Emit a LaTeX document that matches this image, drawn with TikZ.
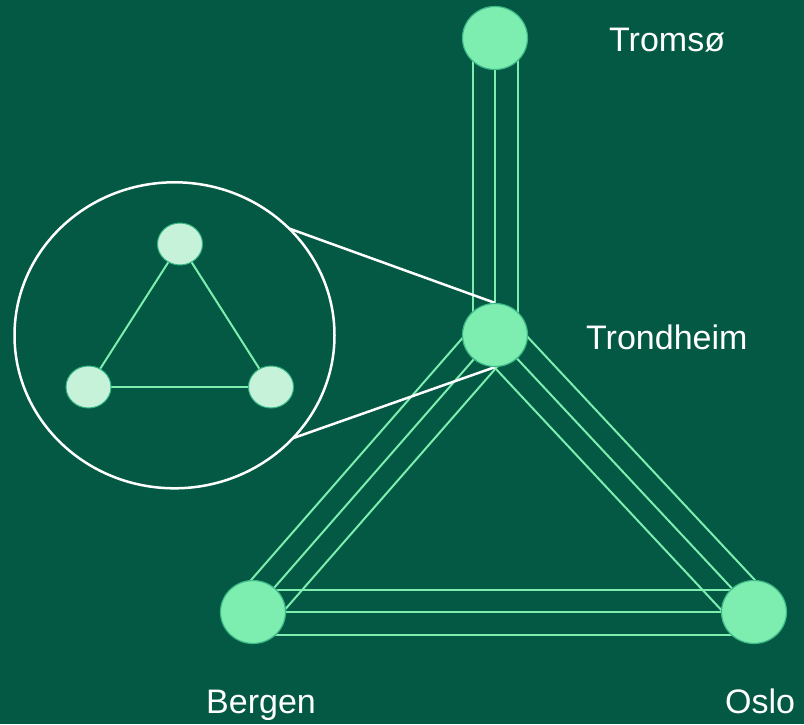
\documentclass[tikz,border=0pt]{standalone}
\usepackage{fontspec}
\setmainfont{Liberation Sans}
\usetikzlibrary{shapes.geometric,calc}
\definecolor{bgc}{RGB}{3,89,68}
\definecolor{lg}{RGB}{125,238,176}
\definecolor{lgb}{RGB}{60,185,135}
\definecolor{pale}{RGB}{198,242,218}
\definecolor{paleb}{RGB}{50,180,130}
\pgfdeclarelayer{back}
\pgfdeclarelayer{links}
\pgfsetlayers{back,links,main}
\begin{document}
\begin{tikzpicture}[x=1pt,y=-1pt,
 city/.style={ellipse,fill=lg,draw=lgb,line width=1.2pt,minimum width=65pt,minimum height=63pt,inner sep=0pt},
 mini/.style={ellipse,fill=pale,draw=paleb,line width=1pt,minimum width=45pt,minimum height=42pt,inner sep=0pt},
 link/.style={draw=lg,line width=2pt},
 zoomline/.style={draw=white,line width=2.5pt},
 lbl/.style={text=white,font=\fontsize{34}{40}\selectfont,inner sep=0pt,anchor=base west}]
\begin{pgfonlayer}{back}
\fill[bgc] (0,0) rectangle (804,724);
\end{pgfonlayer}
\useasboundingbox (0,0) rectangle (804,724);

% city nodes
\node[city] (tromso) at (495,38) {};
\node[city] (trond) at (495,335) {};
\node[city] (bergen) at (253,612) {};
\node[city] (oslo) at (754,612) {};

% triple links
\begin{pgfonlayer}{links}
\foreach \a/\b in {tromso/trond,trond/bergen,trond/oslo,bergen/oslo}{
  \draw[link] (\a.center) -- (\b.center);
  \draw[link] ($(\a.center)!22.5pt!90:(\b.center)$) -- ($(\b.center)!22.5pt!-90:(\a.center)$);
  \draw[link] ($(\a.center)!22.5pt!-90:(\b.center)$) -- ($(\b.center)!22.5pt!90:(\a.center)$);
}
\end{pgfonlayer}

% inset
\node[ellipse,draw=white,line width=2.5pt,minimum width=320pt,minimum height=306pt,inner sep=0pt,outer sep=0pt] (inset) at (174.5,335.3) {};
\node[mini] (mt) at (180,244) {};
\node[mini] (ml) at (88.5,387) {};
\node[mini] (mr) at (271,387) {};
\begin{pgfonlayer}{links}
\draw[link] (mt.center) -- (ml.center);
\draw[link] (mt.center) -- (mr.center);
\draw[link] (ml.center) -- (mr.center);
\draw[zoomline] (trond.north) -- (inset.43.7);
\draw[zoomline] (trond.south) -- (inset.-41.5);
\end{pgfonlayer}

% labels
\node[lbl] (tl) at (609,51) {Tromsø};
\node[lbl] (thl) at (586,349) {Trondheim};
\node[lbl] (bl) at (206,713) {Bergen};
\node[lbl] (ol) at (725,713) {Oslo};
\end{tikzpicture}
\end{document}
